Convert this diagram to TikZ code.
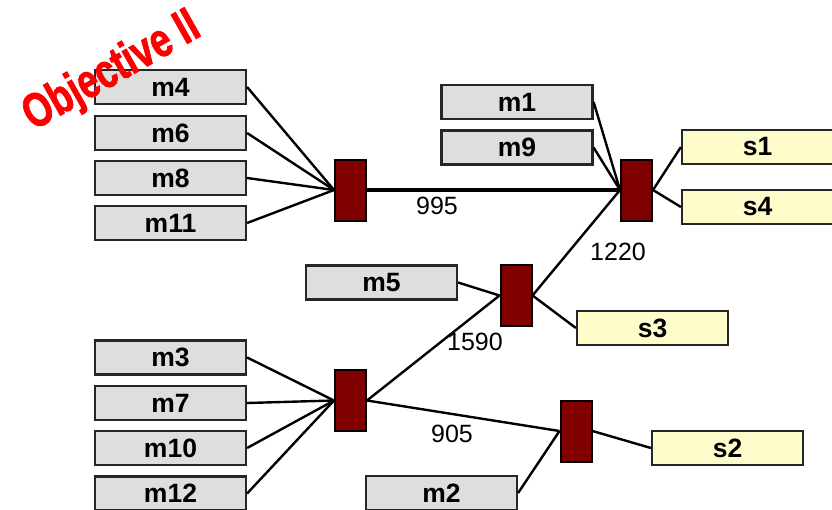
\documentclass[tikz,border=0pt]{standalone}
\usepackage{fontspec}
\setmainfont{Liberation Sans}
\newfontfamily\titlefont[FakeBold=2]{Liberation Sans Bold}
\begin{document}
\begin{tikzpicture}[x=1pt,y=-1pt,
  mbox/.style={draw=black!85,line width=2.2pt,fill=black!13,minimum width=151pt,
    minimum height=34pt,inner sep=0pt,font=\fontsize{26.5}{30}\selectfont\bfseries},
  sbox/.style={mbox,fill=yellow!20},
  hub/.style={draw=black,line width=2pt,fill=red!50!black,minimum width=31pt,
    minimum height=61pt,inner sep=0pt},
  link/.style={line width=2.4pt},
  trunk/.style={line width=3.2pt},
  dist/.style={font=\fontsize{25}{29}\selectfont}]
\useasboundingbox (0,0) rectangle (832,509);
% demand boxes
\node[mbox] (m4)  at (170.5,87)    {m4};
\node[mbox] (m6)  at (170.5,133)   {m6};
\node[mbox] (m8)  at (170.5,178)   {m8};
\node[mbox] (m11) at (170.5,223)   {m11};
\node[mbox] (m3)  at (170.5,357.5) {m3};
\node[mbox] (m7)  at (170.5,403)   {m7};
\node[mbox] (m10) at (170.5,448)   {m10};
\node[mbox] (m12) at (170.5,493.5) {m12};
\node[mbox] (m1)  at (517,102)     {m1};
\node[mbox] (m9)  at (517,147.5)   {m9};
\node[mbox] (m5)  at (381.5,282.5) {m5};
\node[mbox] (m2)  at (441.5,493)   {m2};
% supply boxes
\node[sbox] (s1) at (757.5,147) {s1};
\node[sbox] (s4) at (757.5,207) {s4};
\node[sbox] (s3) at (652.5,328) {s3};
\node[sbox] (s2) at (727.5,448) {s2};
% hubs
\node[hub] (h1) at (350.5,190)   {};
\node[hub] (h2) at (636.5,190)   {};
\node[hub] (h3) at (516,295.5)   {};
\node[hub] (h4) at (350.5,400.5) {};
\node[hub] (h5) at (576,431)     {};
% connectors
\foreach \m in {m4,m6,m8,m11} \draw[link] (\m.east) -- (h1.west);
\foreach \m in {m1,m9} \draw[link] (\m.east) -- (h2.west);
\foreach \m in {m3,m7,m10,m12} \draw[link] (\m.east) -- (h4.west);
\draw[link] (m5.east) -- (h3.west);
\draw[link] (m2.east) -- (h5.west);
\draw[link] (h2.east) -- (s1.west);
\draw[link] (h2.east) -- (s4.west);
\draw[link] (h3.east) -- (s3.west);
\draw[link] (h5.east) -- (s2.west);
\draw[trunk] (h1.east) -- (h2.west);
\draw[link] (h3.east) -- (h2.west);
\draw[link] (h4.east) -- (h3.west);
\draw[link] (h4.east) -- (h5.west);
% distances
\node[dist] (d995)  at (437,206) {995};
\node[dist] (d1220) at (618,252) {1220};
\node[dist] (d1590) at (475,342) {1590};
\node[dist] (d905)  at (452,434) {905};
% title
\node[text=red,rotate=29.5,xscale=0.76,font=\fontsize{48}{52}\titlefont] (title) at (112,72) {Objective II};
\end{tikzpicture}
\end{document}
